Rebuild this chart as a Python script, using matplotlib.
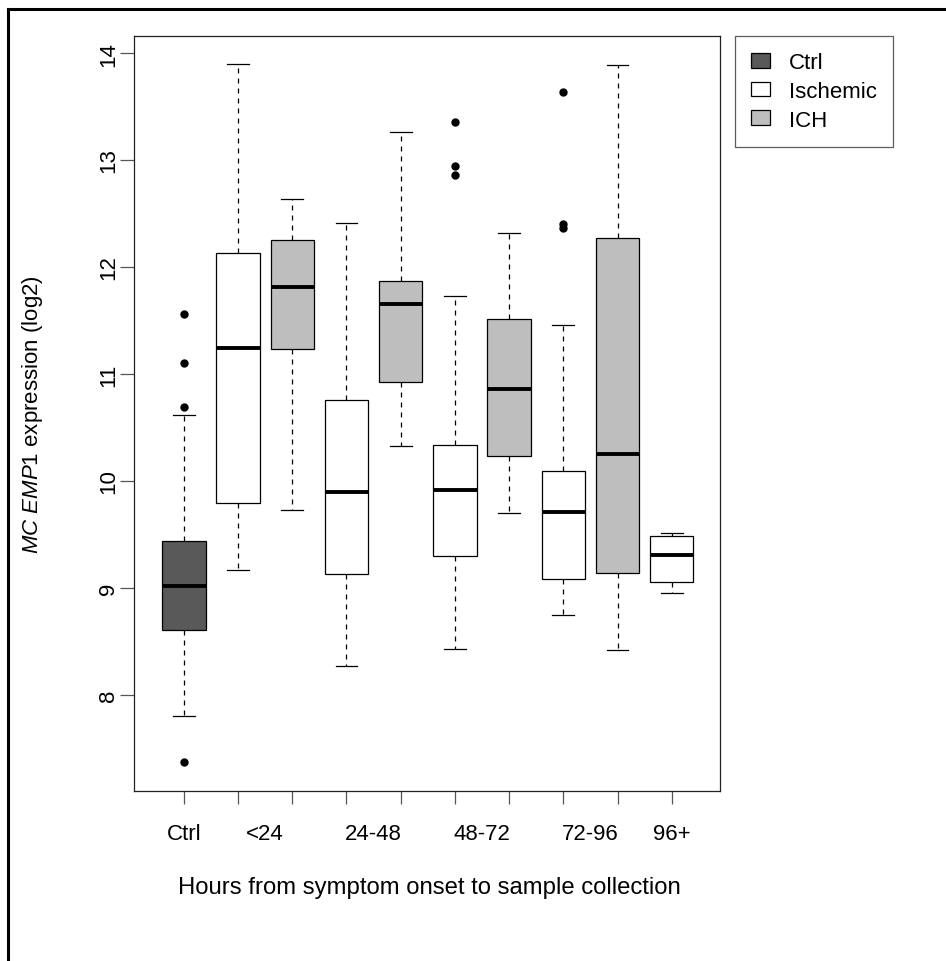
import matplotlib
matplotlib.use("Agg")
import matplotlib.pyplot as plt
from matplotlib.patches import Patch
from matplotlib.lines import Line2D

plt.rcParams['font.family'] = ['Liberation Sans', 'DejaVu Sans']
plt.rcParams['mathtext.fontset'] = 'custom'
plt.rcParams['mathtext.it'] = 'Liberation Sans:italic'
plt.rcParams['mathtext.rm'] = 'Liberation Sans'

# ---- data ----
box_groups = ["Ctrl", "Ischemic", "ICH", "Ischemic", "ICH", "Ischemic", "ICH", "Ischemic", "ICH", "Ischemic"]
whislo = [7.80, 9.17, 9.73, 8.27, 10.33, 8.43, 9.70, 8.75, 8.42, 8.95]
q1     = [8.61, 9.79, 11.23, 9.13, 10.92, 9.30, 10.23, 9.08, 9.14, 9.05]
med    = [9.02, 11.24, 11.81, 9.90, 11.65, 9.91, 10.86, 9.71, 10.25, 9.31]
q3     = [9.44, 12.13, 12.25, 10.76, 11.87, 10.34, 11.51, 10.09, 12.27, 9.48]
whishi = [10.62, 13.90, 12.64, 12.41, 13.26, 11.73, 12.32, 11.46, 13.89, 9.51]
fliers = [[11.56, 11.10, 10.69, 7.37], [], [], [], [],
          [13.36, 12.94, 12.86], [], [13.64, 12.40, 12.36], [], []]

time_labels = ["Ctrl", "<24", "24-48", "48-72", "72-96", "96+"]
time_label_pos = [1, 2.5, 4.5, 6.5, 8.5, 10]
yticks = [8, 9, 10, 11, 12, 13, 14]

legend_labels = ["Ctrl", "Ischemic", "ICH"]
group_colors = {"Ctrl": "#595959", "Ischemic": "#FFFFFF", "ICH": "#BEBEBE"}

# ---- figure ----
W, H = 946, 962
fig = plt.figure(figsize=(W / 100, H / 100), dpi=100)
ax = fig.add_axes([134 / W, 1 - 792 / H, (720 - 134) / W, (792 - 37) / H])

positions = list(range(1, len(med) + 1))
stats = []
for i in range(len(med)):
    stats.append(dict(med=med[i], q1=q1[i], q3=q3[i], whislo=whislo[i],
                      whishi=whishi[i], fliers=fliers[i]))

bp = ax.bxp(stats, positions=positions, widths=0.8, capwidths=0.4,
            patch_artist=True, showfliers=True,
            boxprops=dict(edgecolor="black", linewidth=0.9),
            whiskerprops=dict(color="black", linewidth=0.9, linestyle=(0, (4, 4))),
            capprops=dict(color="black", linewidth=0.9),
            medianprops=dict(color="black", linewidth=2.8, solid_capstyle="butt"),
            flierprops=dict(marker="o", markerfacecolor="black", markeredgecolor="black",
                            markersize=5, linestyle="none"))
for patch, g in zip(bp["boxes"], box_groups):
    patch.set_facecolor(group_colors[g])

ax.set_xlim(0.08, 10.89)
ax.set_ylim(7.10, 14.16)

for s in ax.spines.values():
    s.set_color("#222222")
    s.set_linewidth(0.9)

ax.set_yticks(yticks)
ax.set_yticklabels([str(v) for v in yticks], rotation=90, va="center")
ax.tick_params(axis="y", length=10, width=0.9, color="#555555", pad=0.5, labelsize=16)

ax.xaxis.remove_overlapping_locs = False
ax.set_xticks(positions)
ax.set_xticklabels([""] * len(positions))
ax.tick_params(axis="x", which="major", length=9.5, width=0.9, color="#555555")
ax.set_xticks(time_label_pos, minor=True)
ax.set_xticklabels(time_labels, minor=True)
ax.tick_params(axis="x", which="minor", length=0, pad=23, labelsize=16)

fig.text(33 / W, 1 - 414.5 / H, r"$\mathit{MC\ EMP}$1 expression (log2)",
         rotation=90, ha="center", va="center", fontsize=16)
fig.text(429 / W, 1 - 888 / H, "Hours from symptom onset to sample collection",
         ha="center", va="center", fontsize=17.2)

handles = [Patch(facecolor=group_colors[g], edgecolor="black", linewidth=0.9) for g in legend_labels]
leg = fig.legend(handles, legend_labels, loc="upper left",
                 bbox_to_anchor=(735 / W, 1 - 37 / H), fontsize=16,
                 frameon=True, fancybox=False, handlelength=0.85, handleheight=0.65,
                 handletextpad=0.85, labelspacing=0.35, borderpad=0.72, borderaxespad=0)
leg.get_frame().set_edgecolor("#333333")
leg.get_frame().set_linewidth(0.9)

fig.add_artist(Line2D([8 / W, 1], [1 - 10 / H, 1 - 10 / H], transform=fig.transFigure,
                      color="black", linewidth=2.2))
fig.add_artist(Line2D([8 / W, 8 / W], [0, 1 - 10 / H], transform=fig.transFigure,
                      color="black", linewidth=2.2))

fig.savefig("out.png", dpi=100)
